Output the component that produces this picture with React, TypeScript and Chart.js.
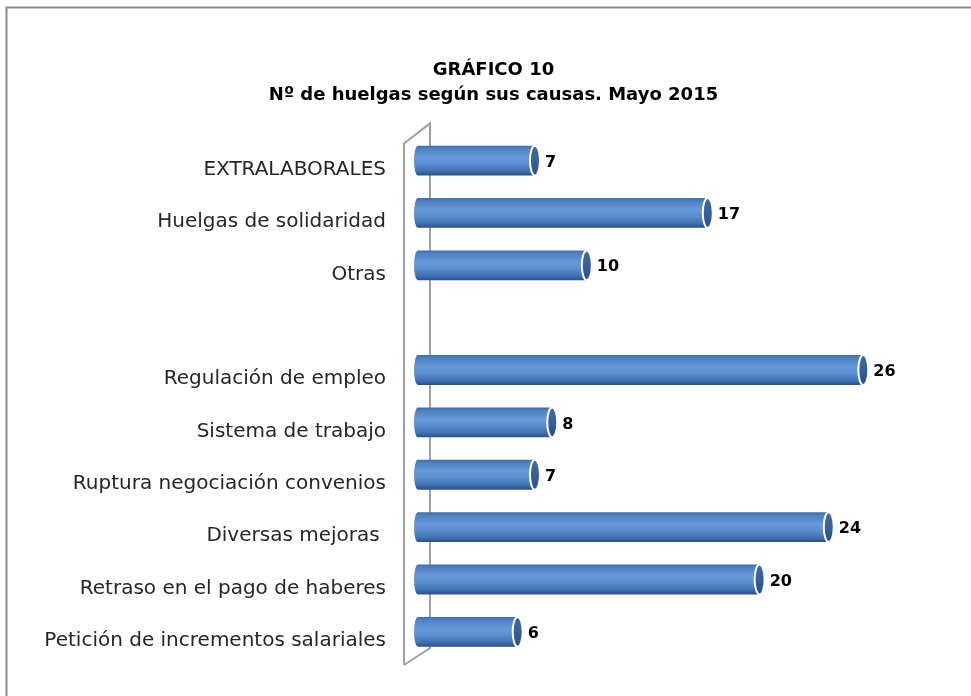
import React, { useEffect, useRef } from "react";
import { Chart, registerables } from "chart.js";

Chart.register(...registerables);

const categories = [
  "EXTRALABORALES",
  "Huelgas de solidaridad",
  "Otras",
  "",
  "Regulación de empleo",
  "Sistema de trabajo",
  "Ruptura negociación convenios",
  "Diversas mejoras ",
  "Retraso en el pago de haberes",
  "Petición de incrementos salariales",
];
const values: (number | null)[] = [7, 17, 10, null, 26, 8, 7, 24, 20, 6];
const titleLines = ["GRÁFICO 10", "Nº de huelgas según sus causas. Mayo 2015"];

const FONT = "'DejaVu Sans', sans-serif";

const framePlugin = {
  id: "frame",
  beforeDraw(chart: any) {
    const ctx = chart.ctx;
    ctx.save();
    ctx.strokeStyle = "#8c8c8c";
    ctx.lineWidth = 2;
    ctx.beginPath();
    ctx.moveTo(6.5, chart.height + 5);
    ctx.lineTo(6.5, 7.5);
    ctx.lineTo(chart.width + 5, 7.5);
    ctx.stroke();
    ctx.restore();
  },
};

const wallPlugin = {
  id: "wall",
  beforeDatasetsDraw(chart: any) {
    const { ctx, chartArea } = chart;
    const base = chart.scales.x.getPixelForValue(0);
    const fx = base - 10;
    const bx = base + 16;
    ctx.save();
    ctx.strokeStyle = "#a0a0a0";
    ctx.lineWidth = 2;
    ctx.beginPath();
    ctx.moveTo(fx, chartArea.bottom + 7);
    ctx.lineTo(fx, chartArea.top + 9);
    ctx.lineTo(bx, chartArea.top - 11);
    ctx.lineTo(bx, chartArea.bottom - 10);
    ctx.lineTo(fx, chartArea.bottom + 7);
    ctx.stroke();
    ctx.restore();
  },
};

const cylinderPlugin = {
  id: "cylinders",
  afterDatasetsDraw(chart: any) {
    const ctx = chart.ctx;
    const meta = chart.getDatasetMeta(0);
    const data = chart.data.datasets[0].data;
    meta.data.forEach((el: any, i: number) => {
      const v = data[i];
      if (v === null || v === undefined) return;
      const { x, y, base, height } = el.getProps(["x", "y", "base", "height"], true);
      const top = y - height / 2;
      const bot = y + height / 2;
      const g = ctx.createLinearGradient(0, top, 0, bot);
      g.addColorStop(0, "#3f6eae");
      g.addColorStop(0.12, "#4f82c6");
      g.addColorStop(0.4, "#6799da");
      g.addColorStop(0.6, "#5c8fd1");
      g.addColorStop(0.85, "#4071b1");
      g.addColorStop(1, "#2a4f87");
      ctx.save();
      const r = 4;
      ctx.beginPath();
      ctx.moveTo(base + r, top);
      ctx.lineTo(x, top);
      ctx.lineTo(x, bot);
      ctx.lineTo(base + r, bot);
      ctx.ellipse(base + r, y, r, height / 2, 0, Math.PI / 2, (3 * Math.PI) / 2);
      ctx.closePath();
      ctx.fillStyle = g;
      ctx.fill();
      const cg = ctx.createLinearGradient(0, top, 0, bot);
      cg.addColorStop(0, "#41699f");
      cg.addColorStop(0.5, "#37609a");
      cg.addColorStop(1, "#2b4f84");
      ctx.beginPath();
      ctx.ellipse(x, y, 5, height / 2, 0, 0, Math.PI * 2);
      ctx.fillStyle = cg;
      ctx.fill();
      ctx.strokeStyle = "#ffffff";
      ctx.lineWidth = 2;
      ctx.stroke();
      ctx.fillStyle = "#000000";
      ctx.font = `bold 16px ${FONT}`;
      ctx.textAlign = "left";
      ctx.textBaseline = "middle";
      ctx.fillText(String(v), x + 10, y + 2);
      ctx.restore();
    });
  },
};

export default function App() {
  const ref = useRef<HTMLCanvasElement>(null);
  useEffect(() => {
    document.body.style.margin = "0";
    const chart = new Chart(ref.current!, {
      type: "bar",
      data: {
        labels: categories,
        datasets: [
          {
            data: values,
            backgroundColor: "rgba(0,0,0,0)",
            borderWidth: 0,
            categoryPercentage: 1,
            barPercentage: 0.57,
          },
        ],
      },
      options: {
        indexAxis: "y",
        animation: false,
        responsive: false,
        maintainAspectRatio: false,
        layout: { padding: { left: 20, right: 4, top: 48, bottom: 38 } },
        plugins: {
          legend: { display: false },
          tooltip: { enabled: false },
          title: {
            display: true,
            text: titleLines,
            color: "#000000",
            font: { family: FONT, size: 18, weight: "bold", lineHeight: 1.4 },
            padding: { top: 10, bottom: 26 },
          },
        },
        scales: {
          x: {
            display: false,
            min: 0,
            max: 32,
          },
          y: {
            afterFit: (s: any) => {
              s.width = 394;
            },
            grid: { display: false },
            border: { display: false },
            ticks: {
              color: "#262626",
              padding: 20,
              labelOffset: 9,
              font: { family: FONT, size: 20 },
            },
          },
        },
      },
      plugins: [framePlugin, wallPlugin, cylinderPlugin],
    });
    return () => chart.destroy();
  }, []);
  return <canvas ref={ref} width={971} height={696} style={{ display: "block" }} />;
}
